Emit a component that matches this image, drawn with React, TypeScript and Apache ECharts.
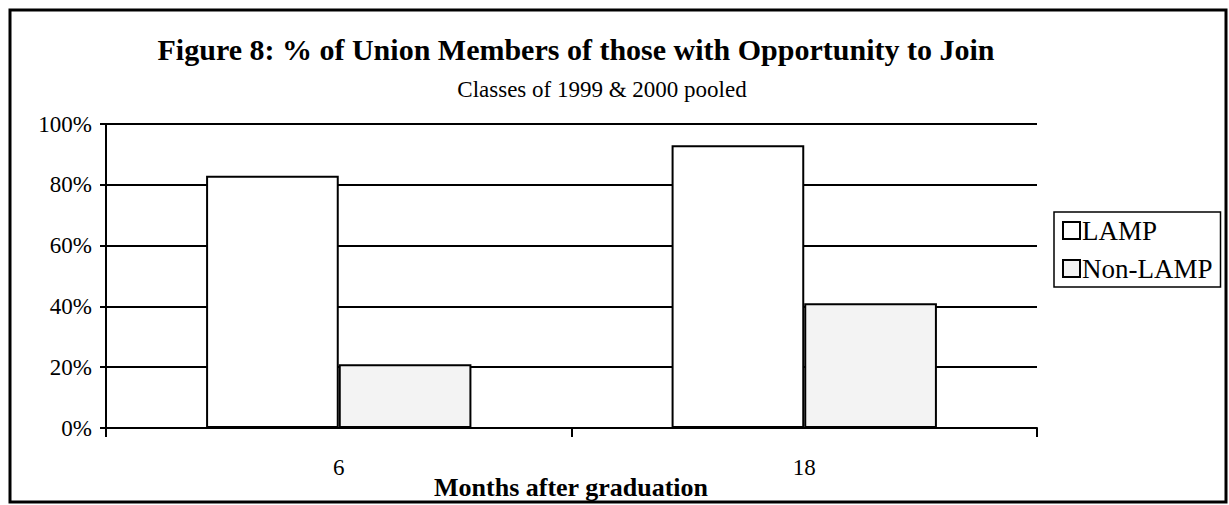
import React, { useEffect, useRef } from "react";
import * as echarts from "echarts";

const categories = ["6", "18"];
const lampValues = [83, 93];
const nonLampValues = [21, 41];
const yTicks = [0, 20, 40, 60, 80, 100];

const FONT = "'Liberation Serif', 'Times New Roman', serif";

export default function App() {
  const ref = useRef<HTMLDivElement>(null);
  useEffect(() => {
    document.body.style.margin = "0";
    const chart = echarts.init(ref.current!, null, { renderer: "svg" });
    chart.setOption({
      animation: false,
      backgroundColor: "#fff",
      textStyle: { fontFamily: FONT, color: "#000" },
      title: [
        {
          text: "Figure 8: % of Union Members of those with Opportunity to Join",
          left: 571,
          top: 29,
          textAlign: "center",
          textStyle: { fontFamily: FONT, fontSize: 30, fontWeight: "bold", color: "#000" },
        },
        {
          text: "Classes of 1999 & 2000 pooled",
          left: 597,
          top: 73,
          textAlign: "center",
          textStyle: { fontFamily: FONT, fontSize: 23, fontWeight: "normal", color: "#000" },
        },
      ],
      legend: {
        orient: "vertical",
        left: 1054,
        top: 212,
        padding: [5, 8, 5, 8],
        itemGap: 11,
        icon: "rect",
        itemWidth: 17,
        itemHeight: 17,
        borderColor: "#000",
        borderWidth: 1.5,
        itemStyle: { borderColor: "#000", borderWidth: 2 },
        textStyle: { fontFamily: FONT, fontSize: 27, color: "#000", padding: [0, 0, 0, -3] },
        data: ["LAMP", "Non-LAMP"],
      },
      grid: { left: 106, top: 124, right: 192, bottom: 77, containLabel: false, outerBoundsMode: "none" },
      xAxis: {
        type: "category",
        data: categories,
        axisLine: { lineStyle: { color: "#000", width: 2 } },
        axisTick: { show: true, alignWithLabel: false, length: 9, lineStyle: { color: "#000", width: 2 } },
        axisLabel: { fontFamily: FONT, fontSize: 23, color: "#000", margin: 28 },
        splitLine: { show: false },
      },
      yAxis: {
        type: "value",
        min: yTicks[0],
        max: yTicks[yTicks.length - 1],
        interval: 20,
        axisLine: { show: true, lineStyle: { color: "#000", width: 2 } },
        axisTick: { show: true, inside: false, length: 6, lineStyle: { color: "#000", width: 2 } },
        axisLabel: { fontFamily: FONT, fontSize: 23, color: "#000", margin: 14, formatter: "{value}%" },
        splitLine: { show: true, lineStyle: { color: "#000", width: 2 } },
      },
      series: [
        {
          name: "LAMP",
          type: "bar",
          data: lampValues,
          barGap: "0%",
          barCategoryGap: "43%",
          itemStyle: { color: "#ffffff", borderColor: "#000", borderWidth: 2 },
        },
        {
          name: "Non-LAMP",
          type: "bar",
          data: nonLampValues,
          barGap: "0%",
          barCategoryGap: "43%",
          itemStyle: { color: "#f3f3f3", borderColor: "#000", borderWidth: 2 },
        },
      ],
      graphic: [
        {
          type: "rect",
          shape: { x: 10, y: 10, width: 1216, height: 492 },
          style: { fill: "none", stroke: "#000", lineWidth: 3 },
          silent: true,
        },
        {
          type: "text",
          x: 571,
          y: 474,
          style: {
            text: "Months after graduation",
            font: `bold 26px ${FONT}`,
            fill: "#000",
            textAlign: "center",
            textVerticalAlign: "top",
          },
        },
      ],
    });
    return () => chart.dispose();
  }, []);
  return <div ref={ref} style={{ width: 1229, height: 505 }} />;
}
